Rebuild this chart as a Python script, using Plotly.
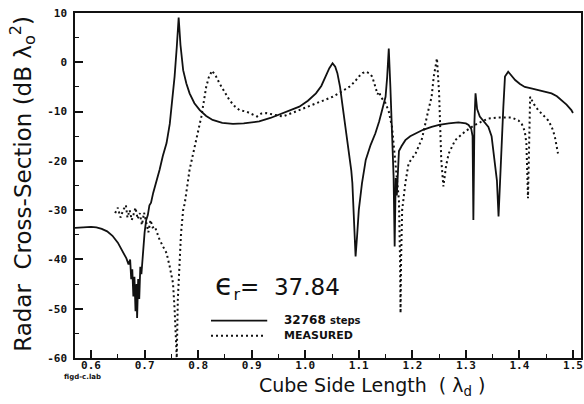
import plotly.graph_objects as go

# Computed RCS (32768 steps), cube side length in dielectric wavelengths vs dB
calc_len = [0.570, 0.580, 0.590, 0.600, 0.610, 0.620, 0.630, 0.640, 0.650, 0.660,
            0.666, 0.670, 0.673, 0.675, 0.677, 0.679, 0.681, 0.683, 0.685, 0.686,
            0.688, 0.690, 0.692, 0.694, 0.697, 0.700, 0.703, 0.706, 0.709, 0.712,
            0.716, 0.720, 0.724, 0.728, 0.734, 0.741, 0.747, 0.752, 0.756, 0.760,
            0.7636, 0.767, 0.772, 0.778, 0.784, 0.793, 0.803, 0.815, 0.827, 0.845,
            0.865, 0.885, 0.914, 0.935, 0.958, 0.975, 0.989, 1.005, 1.020, 1.030,
            1.038, 1.045, 1.051, 1.056, 1.060, 1.065, 1.069, 1.075, 1.082, 1.086,
            1.088, 1.091, 1.094, 1.097, 1.100, 1.106, 1.113, 1.122, 1.131, 1.138,
            1.144, 1.150, 1.153, 1.156, 1.159, 1.162, 1.165, 1.167, 1.169, 1.171,
            1.173, 1.175, 1.180, 1.187, 1.196, 1.206, 1.220, 1.236, 1.250, 1.268,
            1.286, 1.300, 1.305, 1.310, 1.3125, 1.314, 1.316, 1.318, 1.321, 1.326,
            1.334, 1.342, 1.348, 1.354, 1.358, 1.361, 1.364, 1.367, 1.370, 1.373,
            1.379, 1.385, 1.392, 1.401, 1.410, 1.422, 1.435, 1.448, 1.460, 1.470,
            1.478, 1.488, 1.497, 1.500]
calc_rcs = [-33.6, -33.5, -33.4, -33.4, -33.5, -33.8, -34.3, -35.2, -36.6, -38.5,
            -39.8, -41.0, -40.0, -44.0, -42.0, -47.5, -43.5, -50.5, -45.0, -51.9,
            -44.0, -48.0, -41.5, -43.0, -37.5, -34.5, -32.0, -31.0, -29.0, -28.5,
            -26.5, -25.0, -23.0, -21.8, -19.0, -16.4, -12.5, -7.5, -2.9, 3.0,
            9.1, 3.5, -1.6, -4.3, -6.3, -8.3, -9.7, -10.9, -11.7, -12.3,
            -12.5, -12.4, -12.0, -11.3, -10.3, -9.7, -9.0, -7.8, -6.3, -4.8,
            -2.9, -1.2, -0.2, -0.9, -2.2, -5.0, -8.3, -13.0, -18.5, -22.0,
            -24.5, -31.0, -39.4, -35.0, -30.0, -24.5, -19.8, -16.8, -14.4, -12.0,
            -9.7, -7.0, -3.0, 2.8, -5.0, -16.4, -23.2, -37.4, -23.5, -27.0,
            -20.5, -18.0, -17.0, -15.8, -15.0, -14.4, -13.7, -13.1, -12.7, -12.4,
            -12.2, -12.4, -12.7, -13.5, -15.0, -32.0, -12.0, -6.3, -9.5, -11.0,
            -12.0, -13.1, -15.0, -19.8, -24.0, -31.3, -22.0, -16.4, -9.0, -2.9,
            -1.9, -2.8, -3.6, -4.4, -5.0, -5.3, -5.6, -6.0, -6.3, -6.9,
            -7.6, -8.6, -9.7, -10.3]

# Measured RCS
meas_len = [0.645, 0.650, 0.655, 0.660, 0.665, 0.668, 0.672, 0.676, 0.679, 0.683,
            0.687, 0.691, 0.695, 0.699, 0.703, 0.707, 0.711, 0.715, 0.719, 0.724,
            0.728, 0.735, 0.741, 0.747, 0.753, 0.756, 0.759, 0.760, 0.762, 0.765,
            0.768, 0.772, 0.775, 0.784, 0.797, 0.806, 0.815, 0.820, 0.826, 0.833,
            0.840, 0.849, 0.858, 0.867, 0.877, 0.890, 0.900, 0.910, 0.918, 0.927,
            0.940, 0.958, 0.975, 0.989, 1.005, 1.020, 1.035, 1.051, 1.067, 1.082,
            1.092, 1.100, 1.107, 1.113, 1.119, 1.125, 1.131, 1.135, 1.138, 1.141,
            1.150, 1.156, 1.162, 1.168, 1.173, 1.175, 1.177, 1.178, 1.179, 1.181,
            1.187, 1.193, 1.206, 1.218, 1.230, 1.236, 1.240, 1.246, 1.250, 1.252,
            1.254, 1.258, 1.263, 1.268, 1.280, 1.299, 1.317, 1.330, 1.342, 1.361,
            1.385, 1.398, 1.404, 1.410, 1.413, 1.416, 1.418, 1.420, 1.427, 1.435,
            1.445, 1.453, 1.460, 1.466, 1.472]
meas_rcs = [-30.6, -29.5, -31.5, -30.0, -29.0, -31.5, -30.0, -32.0, -31.0, -29.5,
            -31.8, -30.6, -33.0, -30.5, -32.5, -34.5, -32.0, -33.5, -33.3, -35.0,
            -36.0, -37.5, -38.7, -41.5, -44.8, -50.0, -58.4, -60.0, -48.2, -40.0,
            -34.7, -30.0, -28.6, -21.8, -15.0, -11.0, -5.0, -3.0, -1.7, -2.8,
            -4.3, -6.0, -7.6, -8.8, -9.7, -10.0, -10.5, -11.0, -10.4, -10.3,
            -10.6, -11.0, -10.3, -9.7, -9.0, -8.3, -7.6, -7.0, -6.0, -5.0,
            -4.0, -2.9, -2.2, -1.9, -2.2, -2.9, -5.0, -6.5, -6.0, -7.0,
            -8.3, -10.0, -13.1, -19.8, -26.0, -28.0, -40.0, -50.9, -40.0, -30.0,
            -24.5, -20.5, -18.5, -15.5, -9.7, -7.0, -2.9, 0.8, -6.3, -13.1,
            -19.8, -25.2, -21.0, -18.5, -15.8, -14.0, -12.7, -12.0, -11.4, -11.2,
            -11.2, -11.8, -12.4, -14.0, -16.4, -27.6, -15.0, -7.0, -8.5, -9.7,
            -10.8, -11.7, -13.0, -15.0, -18.5]

x_ticks = [0.6, 0.7, 0.8, 0.9, 1.0, 1.1, 1.2, 1.3, 1.4, 1.5]
x_tick_text = ["0.6", "0.7", "0.8", "0.9", "1.0", "1.1", "1.2", "1.3", "1.4", "1.5"]
y_ticks = [10, 0, -10, -20, -30, -40, -50, -60]
y_tick_text = ["10", "0", "-10", "-20", "-30", "-40", "-50", "-60"]

X_RANGE = [0.570, 1.515]
Y_RANGE = [-60, 10]

INK = "#111111"
TICK_FONT = dict(family="DejaVu Sans Mono", size=11, color=INK, weight="bold")
DOT_DASH = "2px,3px"
NBSP = "\u00a0"

fig = go.Figure()
fig.add_trace(go.Scatter(x=calc_len, y=calc_rcs, mode="lines", name="32768 steps",
                         line=dict(color=INK, width=1.8), showlegend=False))
fig.add_trace(go.Scatter(x=meas_len, y=meas_rcs, mode="lines", name="MEASURED",
                         line=dict(color=INK, width=2, dash=DOT_DASH), showlegend=False))

tick_style = dict(ticks="inside", tickcolor=INK, tickwidth=1.5, ticklen=8,
                  showgrid=False, zeroline=False)
x_minor = dict(dtick=0.05, tick0=0.55, ticks="inside", ticklen=4, tickcolor=INK, tickwidth=1.2)
y_minor = dict(dtick=5, tick0=0, ticks="inside", ticklen=4, tickcolor=INK, tickwidth=1.2)

fig.update_layout(
    xaxis=dict(range=X_RANGE, tickmode="array", tickvals=x_ticks, ticktext=x_tick_text,
               ticklabelstandoff=-4, tickfont=TICK_FONT, minor=x_minor,
               showline=True, linecolor=INK, linewidth=1.5, mirror=True, **tick_style),
    yaxis=dict(range=Y_RANGE, tickmode="array", tickvals=y_ticks, ticktext=y_tick_text,
               ticklabelstandoff=4, tickfont=TICK_FONT, minor=y_minor,
               showline=True, linecolor=INK, linewidth=1.5, mirror=True, **tick_style),
    # tick marks along the top and right edges of the frame
    xaxis2=dict(range=X_RANGE, overlaying="x", anchor="y", side="top", tickmode="array",
                tickvals=x_ticks, showticklabels=False, minor=x_minor, showline=False,
                **tick_style),
    yaxis2=dict(range=Y_RANGE, overlaying="y", anchor="x", side="right", tickmode="array",
                tickvals=y_ticks, showticklabels=False, minor=y_minor, showline=False,
                **tick_style),
)

annotations = [
    # axis titles
    dict(text="Radar" + NBSP * 2 + "Cross-Section (dB λ<sub>o</sub><sup>2</sup>)",
         xref="paper", yref="paper", x=-0.104, y=0.506, xanchor="center", yanchor="middle",
         textangle=-90, showarrow=False,
         font=dict(family="DejaVu Sans", size=23, color=INK)),
    dict(text="Cube Side Length" + NBSP * 2 + "( λ<sub>d</sub> )", xref="paper", yref="paper",
         x=0.586, y=-0.082, xanchor="center", yanchor="middle", showarrow=False,
         font=dict(family="DejaVu Sans", size=19, color=INK)),
    dict(text="figd-c.lab", xref="paper", yref="paper", x=-0.025, y=-0.055,
         xanchor="left", yanchor="middle", showarrow=False,
         font=dict(family="DejaVu Sans", size=7, color=INK, weight="bold")),
    # permittivity label
    dict(text="<span style='font-size:30px'>ϵ</span><sub>r</sub>=" + NBSP * 2 + "37.84",
         xref="x", yref="y", x=0.827, y=-45.2,
         xanchor="left", yanchor="middle", showarrow=False,
         font=dict(family="DejaVu Sans", size=23, color=INK)),
    # legend text
    dict(text="32768 <span style='font-size:10px'>steps</span>", xref="x", yref="y",
         x=0.957, y=-52.3, xanchor="left", yanchor="middle", showarrow=False,
         font=dict(family="DejaVu Sans", size=12, color=INK, weight="bold")),
    dict(text="MEASURED", xref="x", yref="y", x=0.957, y=-55.4,
         xanchor="left", yanchor="middle", showarrow=False,
         font=dict(family="DejaVu Sans", size=11, color=INK, weight="bold")),
]

shapes = [
    dict(type="line", xref="x", yref="y", x0=0.824, x1=0.929, y0=-52.4, y1=-52.4,
         line=dict(color=INK, width=1.8)),
    dict(type="line", xref="x", yref="y", x0=0.824, x1=0.924, y0=-55.5, y1=-55.5,
         line=dict(color=INK, width=2, dash=DOT_DASH)),
]

fig.update_layout(width=584, height=404, margin=dict(l=75, r=1, t=13, b=46),
                  paper_bgcolor="white", plot_bgcolor="white",
                  annotations=annotations, shapes=shapes, showlegend=False)

fig.write_html("out.html")
